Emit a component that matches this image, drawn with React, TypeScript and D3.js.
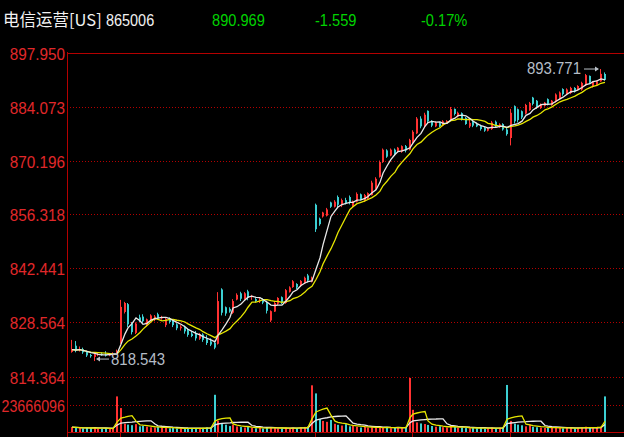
import React from 'react';
import * as d3 from 'd3';

// ---------- DATA ----------
const titleName = '电信运营[US]';
const titleCode = '865006';
const lastPrice = '890.969';
const change = '-1.559';
const changePct = '-0.17%';

const opens = [
  820.9, 822.5, 821.3, 821.6, 820.9, 820.1, 819.6, 820.3, 820.4, 820.2, 820.0, 820.3,
  820.5, 823.5, 831.2, 833.2, 828.2, 825.8, 829.8, 830.0, 827.8, 829.0, 829.2, 830.6, 829.6, 827.8, 829.4, 829.0, 828.0, 827.0, 827.4, 826.5, 825.6, 825.8, 824.3, 825.4, 824.2, 823.6,
  823.2, 823.0, 837.0, 832.4, 832.0, 831.0, 834.4, 836.0, 834.5, 836.5, 835.0, 834.5, 834.0, 834.3, 833.6, 829.0, 831.3, 833.3, 835.0, 833.5, 836.4, 837.6, 838.4, 837.9, 838.6, 840.6,
  839.0, 858.8, 855.2, 855.8, 856.0, 859.4, 858.3, 860.8, 858.7, 860.0, 860.8, 858.5, 859.6, 861.5, 859.8, 860.4, 861.3, 863.0, 866.0, 869.8, 872.8, 871.5, 873.0, 872.4, 872.5, 873.9,
  873.0, 875.0, 877.2, 881.0, 879.0, 883.0, 880.4, 879.0, 880.0, 879.2, 880.0, 880.6, 883.5, 881.5, 882.4, 881.2, 879.0, 880.4, 879.6, 879.2, 878.6, 877.9, 878.3, 880.2, 878.8, 879.6,
  878.2, 876.0, 884.2, 883.4, 882.9, 882.3, 883.2, 886.4, 885.6, 883.7, 884.3, 886.0, 884.5, 885.3, 886.2, 888.6, 887.3, 887.6, 888.9, 888.4, 888.5, 889.6, 892.0, 889.2, 889.7, 890.6,
  892.5,
];
const highs = [
  824.0, 823.7, 822.3, 822.0, 821.2, 820.4, 820.6, 820.8, 820.8, 821.1, 820.6, 820.8,
  821.5, 834.3, 833.8, 833.5, 828.6, 828.5, 830.5, 830.6, 829.5, 830.6, 830.4, 831.0, 830.2, 829.8, 829.8, 829.3, 828.3, 827.8, 827.7, 826.9, 826.2, 826.3, 825.8, 825.7, 825.2, 824.4,
  823.8, 836.3, 837.3, 832.6, 832.4, 834.5, 836.0, 836.4, 836.3, 836.9, 835.6, 834.8, 834.8, 834.7, 834.1, 831.6, 834.0, 835.0, 835.2, 837.1, 837.8, 839.4, 838.6, 839.4, 840.3, 841.0,
  840.3, 859.1, 855.5, 857.0, 858.0, 859.6, 860.0, 861.2, 860.4, 860.6, 861.2, 859.9, 862.0, 861.7, 861.6, 862.0, 865.0, 865.9, 870.2, 873.3, 873.1, 873.3, 873.3, 873.7, 874.1, 874.2,
  875.8, 878.0, 881.4, 881.6, 882.5, 883.1, 880.6, 880.3, 880.2, 880.6, 880.6, 884.0, 883.6, 882.8, 882.6, 881.4, 880.9, 880.5, 880.0, 879.4, 878.9, 878.8, 880.4, 880.5, 879.8, 879.8,
  878.8, 883.5, 884.4, 883.6, 883.1, 884.8, 885.3, 886.6, 885.8, 884.9, 885.3, 886.2, 885.8, 887.5, 888.0, 888.8, 888.8, 889.2, 889.1, 889.6, 890.5, 892.5, 892.1, 890.6, 890.9, 893.771,
  892.9,
];
const lows = [
  820.7, 820.8, 821.0, 820.4, 819.6, 819.4, 818.543, 819.8, 819.9, 819.7, 819.8, 819.9,
  820.2, 823.0, 830.8, 827.3, 825.4, 825.5, 828.6, 828.4, 827.5, 828.8, 828.8, 829.3, 829.2, 827.3, 828.2, 827.3, 826.5, 826.4, 825.6, 824.8, 824.7, 823.8, 824.0, 823.5, 822.7, 822.4,
  821.6, 822.8, 830.3, 830.2, 831.0, 830.7, 834.2, 834.0, 834.3, 834.2, 834.3, 833.6, 833.5, 833.2, 830.8, 828.6, 831.2, 833.0, 833.2, 833.3, 836.2, 837.4, 837.1, 837.7, 838.4, 838.8,
  838.8, 851.8, 853.4, 855.5, 855.8, 858.0, 858.1, 858.2, 858.2, 858.9, 858.9, 858.2, 859.4, 859.9, 859.5, 860.2, 861.2, 862.6, 865.8, 869.6, 870.9, 871.3, 871.4, 872.2, 872.2, 872.3,
  872.8, 874.5, 877.0, 878.5, 878.8, 879.7, 878.8, 878.8, 878.8, 879.0, 879.6, 880.4, 881.8, 881.3, 880.5, 879.4, 878.6, 878.8, 878.8, 877.9, 877.6, 877.7, 878.1, 878.7, 878.6, 877.9,
  876.6, 874.1, 879.7, 880.0, 880.9, 882.1, 883.0, 884.4, 883.5, 883.5, 884.1, 884.4, 884.3, 885.1, 886.0, 886.9, 887.1, 887.3, 887.7, 888.2, 888.2, 889.4, 889.9, 889.0, 889.5, 890.5,
  890.8,
];
const closes = [
  821.5, 821.3, 821.6, 820.8, 820.0, 819.8, 820.3, 820.4, 820.2, 820.0, 820.3, 820.5,
  821.0, 832.5, 833.5, 828.0, 826.0, 828.2, 829.0, 828.8, 829.3, 830.3, 830.0, 829.6, 829.8, 829.4, 828.6, 827.8, 827.0, 827.4, 826.2, 825.3, 825.0, 824.4, 825.5, 824.0, 823.2, 822.8,
  822.0, 834.0, 831.0, 830.8, 831.3, 834.0, 835.6, 834.6, 836.0, 834.8, 835.3, 834.0, 834.3, 833.6, 831.5, 831.4, 833.5, 834.8, 833.6, 836.8, 837.5, 839.1, 837.5, 839.2, 840.0, 839.3,
  840.0, 852.5, 853.8, 856.8, 857.6, 858.3, 859.6, 858.8, 860.0, 859.2, 859.4, 859.7, 861.6, 860.3, 861.3, 861.8, 864.5, 865.5, 869.8, 873.0, 871.2, 873.0, 871.8, 873.5, 873.9, 872.8,
  875.5, 877.6, 881.0, 879.0, 882.0, 880.3, 879.2, 880.0, 879.1, 880.3, 880.4, 883.5, 882.2, 882.5, 880.8, 879.6, 879.9, 879.2, 879.0, 878.3, 877.9, 878.5, 880.0, 879.0, 879.5, 878.2,
  877.0, 882.5, 880.3, 880.6, 881.3, 884.5, 885.0, 884.8, 883.9, 884.7, 885.1, 884.8, 885.6, 887.2, 887.7, 887.3, 888.5, 888.9, 888.0, 889.4, 890.2, 892.2, 890.3, 890.4, 890.6, 892.528,
  890.969,
];
// volume in millions of shares
const volumes = [
  4.3, 3.8, 3.4, 3.1, 3.6, 3.5, 4.0, 3.0, 2.8, 3.2, 3.0, 2.9,
  30.8, 20.7, 7.2, 6.4, 5.9, 6.8, 4.9, 5.3, 4.6, 4.1, 3.8, 4.4, 3.5, 3.9, 3.2, 3.6, 3.0, 3.3, 2.8, 3.1, 3.4, 2.9, 3.2, 3.6, 3.9, 4.2,
  32.2, 9.8, 7.6, 6.3, 5.1, 6.2, 4.8, 4.3, 3.9, 4.5, 3.6, 3.2, 3.5, 3.0, 3.8, 4.2, 3.4, 3.1, 2.9, 3.7, 3.3, 3.6, 3.2, 3.9, 4.4, 4.8,
  40.4, 33.4, 11.2, 9.6, 8.8, 10.4, 7.1, 6.2, 5.6, 6.8, 4.9, 5.2, 4.4, 3.9, 4.6, 3.8, 4.1, 3.5, 4.3, 3.6, 3.9, 3.3, 3.7, 4.0, 3.4, 4.5,
  46.8, 19.2, 8.3, 7.4, 6.9, 6.1, 5.2, 4.6, 5.0, 4.2, 3.8, 5.5, 4.3, 3.6, 3.9, 3.4, 3.2, 3.7, 3.1, 3.5, 3.0, 3.3, 3.8, 3.2, 3.6, 4.1,
  40.7, 9.6, 7.2, 6.4, 5.8, 4.9, 6.3, 4.5, 4.1, 3.8, 3.5, 4.0, 3.6, 3.9, 3.4, 3.2, 3.7, 3.5, 3.1, 3.6, 3.9, 4.6, 3.8, 3.4, 3.7, 4.5,
  30.8,
];
const priceTicks = [897.95, 884.073, 870.196, 856.318, 842.441, 828.564, 814.364];
const priceTickLabels = ['897.950', '884.073', '870.196', '856.318', '842.441', '828.564', '814.364'];
const volTickValue = 23666096;
const volTickLabel = '23666096';
const volMax = 47332192;
const dayStarts = [12, 38, 64, 90, 116, 142];
const highLabel = '893.771';
const lowLabel = '818.543';

// ---------- LAYOUT ----------
const W = 624;
const H = 437;
const AXIS_X = 67;
const RED = '#ff3232';
const CYAN = '#3ccfd2';
const AXIS_RED = '#b40000';
const LABEL_RED = '#e0282a';
const NUM_FONT = '"Liberation Sans", Arial, sans-serif';

function movingAvg(arr: number[], n: number): number[] {
  return arr.map((_, i) => {
    const s = Math.max(0, i - n + 1);
    const w = arr.slice(s, i + 1);
    return d3.mean(w) as number;
  });
}

function NumText(props: { x: number; y: number; text: string; fill: string; anchor?: string; size?: number; sx?: number }) {
  const { x, y, text, fill, anchor = 'start', size = 17, sx = 0.88 } = props;
  return (
    <text
      transform={`translate(${x},${y}) scale(${sx},1)`}
      fill={fill}
      fontFamily={NUM_FONT}
      fontSize={size}
      textAnchor={anchor as any}
    >
      {text}
    </text>
  );
}

export default function App() {
  const n = closes.length;
  const x = d3.scaleLinear().domain([0, n - 1]).range([71, 603.5]);
  const y = d3.scaleLinear().domain([814.364, 897.95]).range([377.3, 52.8]);
  const yv = d3.scaleLinear().domain([0, volMax]).range([432, 377.3]);
  const vols = volumes.map((v) => v * 1e6);

  const ma5 = movingAvg(closes, 5);
  const ma10 = movingAvg(closes, 10);
  const vma5 = movingAvg(vols, 5);
  const vma10 = movingAvg(vols, 10);

  const cx = (i: number) => Math.round(x(i));
  const priceLine = d3.line<number>().x((_, i) => cx(i) + 1).y((d) => y(d));
  const volLine = d3.line<number>().x((_, i) => cx(i) + 1).y((d) => yv(d));

  const hiIdx = d3.maxIndex(highs);
  const loIdx = d3.minIndex(lows);
  const hiY = y(highs[hiIdx]);
  const loY = y(lows[loIdx]) - 2;
  const hiX = cx(hiIdx);
  const loX = cx(loIdx) + 1;

  const isUp = (i: number) => closes[i] >= opens[i];

  return (
    <svg
      width={W}
      height={H}
      style={{ position: 'absolute', left: 0, top: 0, display: 'block', background: '#000' }}
    >
      <rect x={0} y={0} width={W} height={H} fill="#000" />

      {/* Header */}
      <text x={3} y={25.5} fill="#f2f2f2" fontFamily='"Noto Sans CJK SC", sans-serif' fontSize={16.5}>
        {titleName}
      </text>
      <NumText x={106} y={25.5} text={titleCode} fill="#f2f2f2" sx={0.85} />
      <NumText x={212} y={25.5} text={lastPrice} fill="#00d200" sx={0.86} />
      <NumText x={315} y={25.5} text={change} fill="#00d200" sx={0.86} />
      <NumText x={421} y={25.5} text={changePct} fill="#00d200" sx={0.86} />

      {/* Grid lines & y labels */}
      {priceTicks.map((t, k) => {
        const yy = Math.round(y(t)) + 0.5;
        return (
          <g key={'pt' + k}>
            {k === 0 ? (
              <line x1={AXIS_X} x2={W} y1={yy} y2={yy} stroke={AXIS_RED} strokeWidth={1} />
            ) : (
              <line x1={AXIS_X} x2={W} y1={yy} y2={yy} stroke={AXIS_RED} strokeWidth={1} strokeDasharray="1,2" />
            )}
            <NumText x={65} y={yy + 6} text={priceTickLabels[k]} fill={LABEL_RED} anchor="end" sx={0.9} />
          </g>
        );
      })}
      {(() => {
        const yy = Math.round(yv(volTickValue)) + 0.5;
        return (
          <g>
            <line x1={AXIS_X} x2={W} y1={yy} y2={yy} stroke={AXIS_RED} strokeWidth={1} strokeDasharray="1,2" />
            <NumText x={65} y={yy + 6} text={volTickLabel} fill={LABEL_RED} anchor="end" sx={0.84} />
          </g>
        );
      })()}
      <line x1={AXIS_X} x2={W} y1={432.5} y2={432.5} stroke={AXIS_RED} strokeWidth={1} />
      <line x1={AXIS_X + 0.5} x2={AXIS_X + 0.5} y1={52} y2={H} stroke={AXIS_RED} strokeWidth={1} />
      {dayStarts.slice(0, 5).map((d, k) => (
        <line key={'dt' + k} x1={cx(d + 1) + 0.5} x2={cx(d + 1) + 0.5} y1={433} y2={H} stroke={AXIS_RED} />
      ))}

      {/* Candles */}
      {closes.map((c, i) => {
        const xi = cx(i);
        const col = isUp(i) ? RED : CYAN;
        const top = y(Math.max(opens[i], c));
        const bot = y(Math.min(opens[i], c));
        return (
          <g key={'c' + i}>
            <line x1={xi + 0.5} x2={xi + 0.5} y1={y(highs[i])} y2={y(lows[i])} stroke={col} strokeWidth={1} />
            <rect x={xi} y={top} width={2} height={Math.max(1, bot - top)} fill={col} />
          </g>
        );
      })}

      {/* Price MAs */}
      <path d={priceLine(ma10) || ''} fill="none" stroke="#e6e600" strokeWidth={1.3} />
      <path d={priceLine(ma5) || ''} fill="none" stroke="#e8e8e8" strokeWidth={1.3} />

      {/* Volume bars */}
      {vols.map((v, i) => {
        const xi = cx(i);
        const col = isUp(i) ? RED : CYAN;
        return <rect key={'v' + i} x={xi} y={yv(v)} width={2} height={432 - yv(v)} fill={col} />;
      })}
      <path d={volLine(vma10) || ''} fill="none" stroke="#e8e8e8" strokeWidth={1.3} />
      <path d={volLine(vma5) || ''} fill="none" stroke="#e6e600" strokeWidth={1.3} />

      {/* High annotation */}
      <line x1={584} x2={hiX - 2} y1={hiY} y2={hiY} stroke="#b8c0c8" strokeWidth={1} />
      <path d={`M${hiX - 1},${hiY} L${hiX - 5},${hiY - 2.5} L${hiX - 5},${hiY + 2.5} Z`} fill="#b8c0c8" />
      <NumText x={581} y={hiY + 5} text={highLabel} fill="#b4bcc6" anchor="end" />

      {/* Low annotation */}
      <line x1={loX + 2} x2={109} y1={loY} y2={loY} stroke="#b8c0c8" strokeWidth={1} />
      <path d={`M${loX + 1},${loY} L${loX + 5},${loY - 2.5} L${loX + 5},${loY + 2.5} Z`} fill="#b8c0c8" />
      <NumText x={111} y={loY + 6} text={lowLabel} fill="#b4bcc6" />
    </svg>
  );
}
